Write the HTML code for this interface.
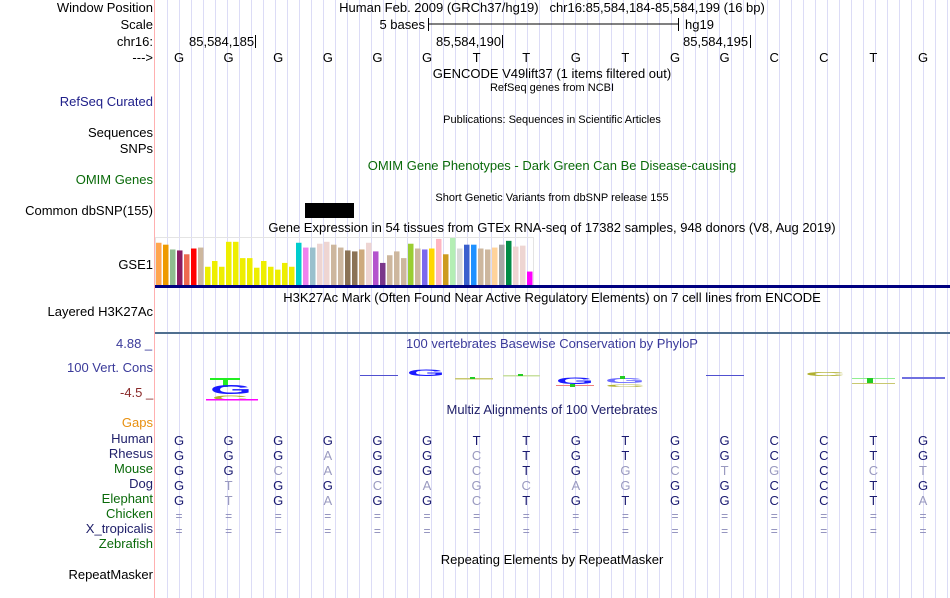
<!DOCTYPE html>
<html><head><meta charset="utf-8"><style>
body{margin:0;background:#fff;font-family:"Liberation Sans",sans-serif;}
#wrap{position:relative;width:950px;height:598px;overflow:hidden;}
.t{position:absolute;font-size:13px;white-space:nowrap;line-height:14px;}
.l{right:797px;text-align:right;}
.c{transform:translateX(-50%);}
.s{font-size:11px;}
</style></head><body>
<div id="wrap">
<svg id="svg" width="950" height="598" style="position:absolute;left:0;top:0"></svg>

<div class="t l" style="top:1px">Window Position</div>
<div class="t l" style="top:18px">Scale</div>
<div class="t l" style="top:35px">chr16:</div>
<div class="t l" style="top:51px">---&gt;</div>
<div class="t l" style="top:95px;color:#20208a">RefSeq Curated</div>
<div class="t l" style="top:126px">Sequences</div>
<div class="t l" style="top:142px">SNPs</div>
<div class="t l" style="top:173px;color:#0a6a0a">OMIM Genes</div>
<div class="t l" style="top:204px">Common dbSNP(155)</div>
<div class="t l" style="top:258px">GSE1</div>
<div class="t l" style="top:305px">Layered H3K27Ac</div>
<div class="t l" style="top:361px;color:#3a3a9a">100 Vert. Cons</div>
<div class="t" style="top:337px;left:116px;color:#3a3a9a">4.88 _</div>
<div class="t" style="top:386px;left:120px;color:#8a2a2a">-4.5 _</div>
<div class="t l" style="top:416px;color:#e89010">Gaps</div>
<div class="t l" style="top:432px;color:#20206a">Human</div>
<div class="t l" style="top:447px;color:#20206a">Rhesus</div>
<div class="t l" style="top:462px;color:#0a6a0a">Mouse</div>
<div class="t l" style="top:477px;color:#20206a">Dog</div>
<div class="t l" style="top:492px;color:#0a6a0a">Elephant</div>
<div class="t l" style="top:507px;color:#0a6a0a">Chicken</div>
<div class="t l" style="top:522px;color:#20206a">X_tropicalis</div>
<div class="t l" style="top:537px;color:#0a6a0a">Zebrafish</div>
<div class="t l" style="top:568px">RepeatMasker</div>

<div class="t c" style="top:1px;left:552px">Human Feb. 2009 (GRCh37/hg19)&nbsp;&nbsp; chr16:85,584,184-85,584,199 (16 bp)</div>
<div class="t" style="top:18px;right:525px">5 bases</div>
<div class="t" style="top:18px;left:685px">hg19</div>
<div class="t" style="top:35px;left:189px">85,584,185</div>
<div class="t" style="top:35px;left:436px">85,584,190</div>
<div class="t" style="top:35px;left:683px">85,584,195</div>
<div class="t c" style="top:67px;left:552px">GENCODE V49lift37 (1 items filtered out)</div>
<div class="t c s" style="top:81px;left:552px">RefSeq genes from NCBI</div>
<div class="t c s" style="top:113px;left:552px">Publications: Sequences in Scientific Articles</div>
<div class="t c" style="top:159px;left:552px;color:#0a6a0a">OMIM Gene Phenotypes - Dark Green Can Be Disease-causing</div>
<div class="t c s" style="top:191px;left:552px">Short Genetic Variants from dbSNP release 155</div>
<div class="t c" style="top:221px;left:552px">Gene Expression in 54 tissues from GTEx RNA-seq of 17382 samples, 948 donors (V8, Aug 2019)</div>
<div class="t c" style="top:291px;left:552px">H3K27Ac Mark (Often Found Near Active Regulatory Elements) on 7 cell lines from ENCODE</div>
<div class="t c" style="top:337px;left:552px;color:#3a3a9a">100 vertebrates Basewise Conservation by PhyloP</div>
<div class="t c" style="top:403px;left:552px;color:#20206a">Multiz Alignments of 100 Vertebrates</div>
<div class="t c" style="top:553px;left:552px">Repeating Elements by RepeatMasker</div>
</div>
<script>
const bases=["G","G","G","G","G","G","T","T","G","T","G","G","C","C","T","G"];
const species=["Rhesus","Mouse","Dog","Elephant"];
const aligned=[
 "GGGAGGCTGTGGCCTG",
 "GGCAGGCTGGCTGCCT",
 "GTGGCAGCAGGGCCTG",
 "GTGAGGCTGTGGCCTA"];
const tissueValues=[44,42,37,36,32,38,39,19,25,19,45,45,28,28,18,25,19,16,23,19,44,39,39,43,45,42,39,36,35,37,44,35,23,31,35,28,43,38,37,38,48,32,49,38,42,42,38,37,39,42,46,40,41,14];
const tissueColors=["#ffa54f","#ee9a00","#8fbc8f","#8b1c62","#ee6a50","#ff0000","#cdb79e","#eeee00","#eeee00","#eeee00","#eeee00","#eeee00","#eeee00","#eeee00","#eeee00","#eeee00","#eeee00","#eeee00","#eeee00","#eeee00","#00cdcd","#ee82ee","#9ac0cd","#eed5d2","#eed5d2","#cdb79e","#cdb79e","#8b7355","#8b7355","#cdaa7d","#eed5d2","#b452cd","#7a378b","#cdb79e","#cdb79e","#cdb79e","#9acd32","#cdb79e","#7b68ee","#ffd700","#ffb6c1","#cd9b1d","#b4eeb4","#d9d9d9","#3a5fcd","#1e90ff","#cdb79e","#cdb79e","#ffd39b","#a6a6a6","#008b45","#eed5d2","#eed5d2","#ff00ff"];
const NS="http://www.w3.org/2000/svg";
const svg=document.getElementById('svg');
function mk(tag,attrs,parent){const e=document.createElementNS(NS,tag);for(const k in attrs)e.setAttribute(k,attrs[k]);(parent||svg).appendChild(e);return e;}
const baseX=i=>179+i*49.6;
for(let x=167;x<950;x+=12){const g=mk('line',{x1:x+0.5,y1:0,x2:x+0.5,y2:598,stroke:'#dcdcf6','stroke-width':1});

}
const rl=mk('line',{x1:154.5,y1:0,x2:154.5,y2:598,stroke:'#ffb0b0'});


mk('line',{x1:428,y1:24,x2:678,y2:24,stroke:'#000'});
mk('line',{x1:428.5,y1:18,x2:428.5,y2:31,stroke:'#000'});
mk('line',{x1:678.5,y1:18,x2:678.5,y2:31,stroke:'#000'});
[255.5,502.5,750.5].forEach(x=>mk('line',{x1:x,y1:35,x2:x,y2:48,stroke:'#000'}));
bases.forEach((b,i)=>{const t=mk('text',{x:baseX(i),y:62,'text-anchor':'middle','font-size':13,'font-family':'Liberation Sans'});t.textContent=b;

});
const snp=mk('rect',{x:305,y:203,width:49,height:15,fill:'#000'});


const base0=285, maxV=50, hPx=48;
const yS=v=>v/maxV*hPx;
mk('rect',{x:155.5,y:237.5,width:378,height:48,fill:'none',stroke:'#e4e4e4'});
tissueValues.forEach((v,i)=>{const r=mk('rect',{x:156+i*7,y:base0-yS(v),width:5.5,height:yS(v),fill:tissueColors[i]});

});
mk('rect',{x:155,y:285,width:795,height:3,fill:'#000080'});
mk('rect',{x:155,y:332,width:795,height:2,fill:'#4f6f8f'});
function logo(x,y,w,col,txt,h){const t=mk('text',{x:x+w/2,y:y,'text-anchor':'middle','font-size':h||10,'font-weight':'bold',fill:col,'font-family':'Liberation Sans',textLength:w,lengthAdjust:'spacingAndGlyphs'});t.textContent=txt;

return t;}
mk('rect',{x:210,y:378,width:30,height:2,fill:'#22ee22'});mk('rect',{x:223,y:378,width:5,height:9,fill:'#22ee22'});
logo(210,394,42,'#1a1aff','G',13);logo(212,400,36,'#b0b030','C',6);
mk('rect',{x:206,y:399,width:52,height:1.5,fill:'#ff00ff'});
mk('rect',{x:360,y:375,width:38,height:1,fill:'#5050d0'});
logo(407,376,38,'#1a1aff','G',9);
mk('rect',{x:455,y:378,width:38,height:1.5,fill:'#c8c870'});mk('rect',{x:470,y:377,width:5,height:2,fill:'#22cc22'});
mk('rect',{x:503,y:375,width:37,height:1.5,fill:'#c8e0a0'});mk('rect',{x:518,y:374,width:5,height:2,fill:'#22cc22'});
logo(556,384,38,'#1a1aff','G',9);mk('rect',{x:556,y:385,width:38,height:1,fill:'#f08080'});mk('rect',{x:570,y:384,width:5,height:3,fill:'#22cc22'});
logo(605,383,40,'#6a6aff','G',7);mk('rect',{x:620,y:376,width:5,height:3,fill:'#22cc22'});logo(605,387,40,'#b0b030','C',4);
mk('rect',{x:706,y:375,width:38,height:1,fill:'#5050d0'});
logo(805,376,40,'#b0b030','C',5);
mk('rect',{x:852,y:378,width:43,height:1,fill:'#90ee90'});mk('rect',{x:867,y:378,width:6,height:5,fill:'#22cc22'});mk('rect',{x:852,y:383,width:43,height:1,fill:'#c8c870'});
mk('rect',{x:902,y:377,width:43,height:2,fill:'#7070e0'});
const rowY=[445,460,475,490,505];
bases.forEach((b,i)=>{const t=mk('text',{x:baseX(i),y:rowY[0],'text-anchor':'middle','font-size':13,fill:'#1a1a70','font-family':'Liberation Sans'});t.textContent=b;

});
aligned.forEach((seq,r)=>{seq.split('').forEach((c,i)=>{const m=c===bases[i];const t=mk('text',{x:baseX(i),y:rowY[r+1],'text-anchor':'middle','font-size':13,fill:m?'#1a1a70':'#9a9ac0','font-family':'Liberation Sans'});t.textContent=c;

});});
[520,535].forEach(y=>bases.forEach((b,i)=>{const t=mk('text',{x:baseX(i),y:y,'text-anchor':'middle','font-size':12,fill:'#8888b8','font-family':'Liberation Sans'});t.textContent='=';

}));
</script>
</body></html>
